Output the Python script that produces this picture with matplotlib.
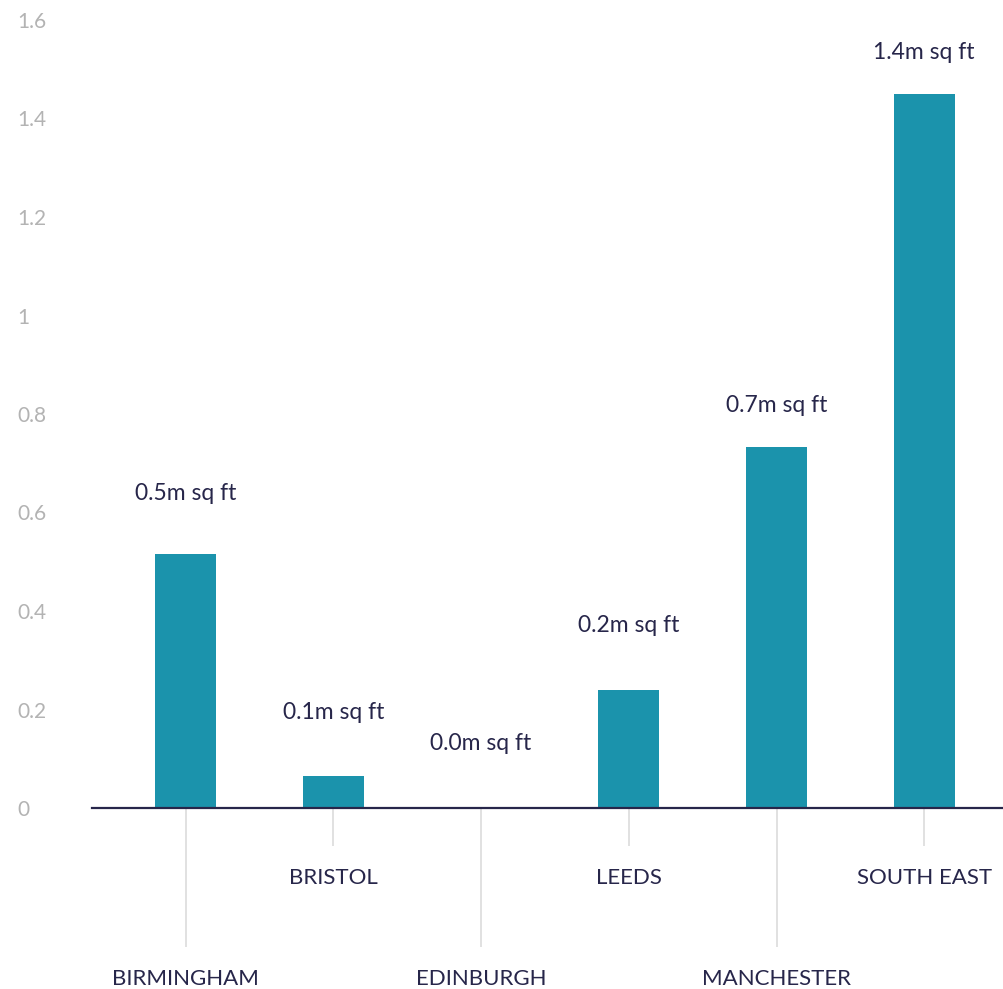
import matplotlib.pyplot as plt
from matplotlib.ticker import FixedLocator

plt.rcParams['font.family'] = ['Lato', 'DejaVu Sans']

regions = ["BIRMINGHAM", "BRISTOL", "EDINBURGH", "LEEDS", "MANCHESTER", "SOUTH EAST"]
space_msqft = [0.516, 0.065, 0.0, 0.24, 0.733, 1.45]
value_labels = ["0.5m sq ft", "0.1m sq ft", "0.0m sq ft", "0.2m sq ft", "0.7m sq ft", "1.4m sq ft"]

BAR_COLOR = '#1b93ac'
TEXT_COLOR = '#27264a'
GREY = '#b3b3b3'

fig = plt.figure(figsize=(10.04, 9.89), dpi=100)
ax = fig.add_axes([92 / 1004, (989 - 808) / 989, 1 - 92 / 1004, (808 - 20) / 989])

x = list(range(len(regions)))
bars = ax.bar(x, space_msqft, width=0.413, color=BAR_COLOR, zorder=2)

# label offsets (px above bar top) as seen in the original
offsets = [60, 63, 64, 64, 41, 41]
for bar, lab, off in zip(bars, value_labels, offsets):
    ax.annotate(lab, (bar.get_x() + bar.get_width() / 2, bar.get_height()),
                xytext=(0, off * 0.72), textcoords='offset points',
                ha='center', va='center', fontsize=16.5, color=TEXT_COLOR)

ax.set_xlim(-0.634, 5.54)
ax.set_ylim(0, 1.6)

for s in ['top', 'right', 'left']:
    ax.spines[s].set_visible(False)
ax.spines['bottom'].set_color(TEXT_COLOR)
ax.spines['bottom'].set_linewidth(1.6)
ax.spines['bottom'].set_zorder(3)

# alternating long / short ticks
ax.xaxis.set_major_locator(FixedLocator(x[0::2]))
ax.xaxis.set_minor_locator(FixedLocator(x[1::2]))
ax.set_xticklabels(regions[0::2])
ax.set_xticklabels(regions[1::2], minor=True)
ax.tick_params(axis='x', which='major', length=100, width=1.1, color='#d9d9d9',
               pad=16, labelsize=16, labelcolor=TEXT_COLOR)
ax.tick_params(axis='x', which='minor', length=27, width=1.1, color='#d9d9d9',
               pad=16, labelsize=16, labelcolor=TEXT_COLOR)

ax.set_yticks([0, 0.2, 0.4, 0.6, 0.8, 1.0, 1.2, 1.4, 1.6])
ax.set_yticklabels(['0', '0.2', '0.4', '0.6', '0.8', '1', '1.2', '1.4', '1.6'])
ax.tick_params(axis='y', length=0, pad=54, labelsize=15, labelcolor=GREY)
for t in ax.get_yticklabels():
    t.set_horizontalalignment('left')

fig.savefig('out.png', dpi=100)
